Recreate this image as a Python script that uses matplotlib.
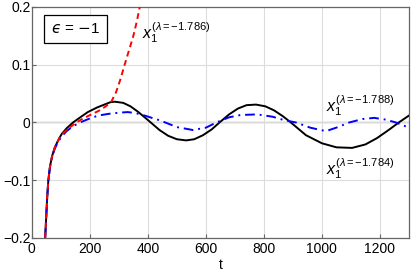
import matplotlib
matplotlib.use("Agg")
import matplotlib.pyplot as plt

plt.rcParams['font.family'] = ['Liberation Sans', 'DejaVu Sans']
plt.rcParams['mathtext.fontset'] = 'custom'
plt.rcParams['mathtext.rm'] = 'Liberation Sans'
plt.rcParams['mathtext.it'] = 'Liberation Sans:italic'
plt.rcParams['mathtext.sf'] = 'Liberation Sans'

# lambda = -1.784 (black solid)
t_black = [46, 49, 53, 57, 63, 70, 78, 86, 95, 103, 120, 142, 170, 193, 225, 250, 270, 286,
           315, 340, 365, 389, 410, 440, 470, 500, 532, 560, 590, 620, 647, 680, 710, 740, 773,
           805, 835, 865, 893, 945, 1000, 1050, 1104, 1150, 1190, 1230, 1265, 1300]
x_black = [-0.200, -0.170, -0.130, -0.100, -0.075, -0.058, -0.045, -0.036, -0.027, -0.020,
           -0.010, 0.000, 0.010, 0.018, 0.026, 0.031, 0.035, 0.036, 0.034, 0.028, 0.019,
           0.009, 0.000, -0.013, -0.023, -0.029, -0.031, -0.029, -0.022, -0.012, 0.000, 0.014,
           0.024, 0.030, 0.031, 0.028, 0.021, 0.011, 0.000, -0.022, -0.036, -0.043, -0.044,
           -0.038, -0.027, -0.013, 0.000, 0.012]

# lambda = -1.786 (red dashed)
t_red = [46, 49, 53, 57, 63, 70, 78, 86, 95, 103, 120, 148, 170, 193, 230, 255, 274,
         290, 305, 320, 335, 350, 362, 372]
x_red = [-0.200, -0.170, -0.130, -0.100, -0.075, -0.058, -0.045, -0.036, -0.027, -0.021,
         -0.013, -0.002, 0.005, 0.011, 0.020, 0.028, 0.036, 0.052, 0.074, 0.100,
         0.125, 0.150, 0.175, 0.200]

# lambda = -1.788 (blue dash-dot)
t_blue = [46, 49, 53, 57, 63, 70, 78, 86, 95, 103, 120, 140, 166, 200, 229, 265, 300, 331,
          360, 389, 420, 446, 460, 500, 555, 600, 636, 680, 720, 777, 830, 870, 911, 960,
          1014, 1055, 1094, 1140, 1180, 1220, 1255, 1300]
x_blue = [-0.200, -0.170, -0.130, -0.100, -0.076, -0.060, -0.047, -0.038, -0.030, -0.024,
          -0.015, -0.007, 0.000, 0.007, 0.012, 0.015, 0.017, 0.018, 0.016, 0.012, 0.007,
          0.003, 0.000, -0.008, -0.013, -0.009, 0.000, 0.009, 0.013, 0.014, 0.010, 0.004,
          0.000, -0.009, -0.015, -0.008, 0.000, 0.006, 0.008, 0.005, 0.000, -0.009]

xticks = [0, 200, 400, 600, 800, 1000, 1200]
yticks = [-0.2, -0.1, 0, 0.1, 0.2]
ytick_labels = ['\u22120.2', '\u22120.1', '0', '0.1', '0.2']

fig = plt.figure(figsize=(4.11, 2.74), dpi=100)
ax = fig.add_axes([0.0774, 0.1314, 0.9176, 0.8431])

ax.grid(True, color='#dcdcdc', linewidth=0.8)
ax.axhline(0, color='#777777', linewidth=0.9, zorder=1)

ax.plot(t_black, x_black, color='black', linewidth=1.4, zorder=3)
ax.plot(t_blue, x_blue, color='blue', linewidth=1.4, linestyle=(0, (5, 2.5, 1, 2.5)), zorder=4)
ax.plot(t_red, x_red, color='red', linewidth=1.4, linestyle=(0, (3, 2)), zorder=5)

ax.set_xlim(0, 1300)
ax.set_ylim(-0.2, 0.2)
ax.set_xticks(xticks)
ax.set_yticks(yticks)
ax.set_yticklabels(ytick_labels)
ax.tick_params(direction='in', length=3, labelsize=10, colors='#666666', labelcolor='black')
ax.tick_params(axis='x', pad=3)
ax.tick_params(axis='y', pad=1)
for s in ax.spines.values():
    s.set_color('#666666')
    s.set_linewidth(0.9)
ax.set_xlabel('t', fontsize=10, labelpad=1)

ax.text(0.051, 0.905, '$\u03f5$ = $-$1', transform=ax.transAxes, fontsize=11,
        ha='left', va='center', math_fontfamily='dejavusans',
        bbox=dict(boxstyle='square,pad=0.45', facecolor='white', edgecolor='black', linewidth=0.9))

ax.text(380, 0.156, r'$x_1^{(\lambda = -1.786)}$', fontsize=11.5, ha='left', va='center')
ax.text(1013, 0.030, r'$x_1^{(\lambda = -1.788)}$', fontsize=11.5, ha='left', va='center')
ax.text(1013, -0.080, r'$x_1^{(\lambda = -1.784)}$', fontsize=11.5, ha='left', va='center')

fig.savefig('out.png', dpi=100)
